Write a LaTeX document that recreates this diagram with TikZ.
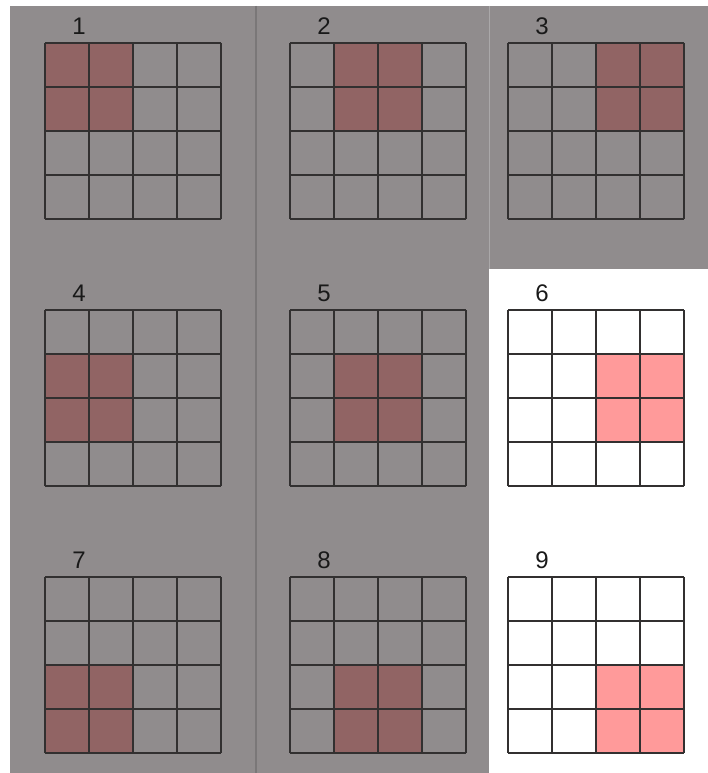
\documentclass[tikz,border=0pt]{standalone}
\usepackage{fontspec}
\setmainfont{Liberation Sans}
\definecolor{bggray}{RGB}{144,140,141}
\definecolor{redgray}{RGB}{145,100,100}
\definecolor{pinkcell}{RGB}{255,154,154}
\definecolor{gridline}{RGB}{50,48,48}
\definecolor{sepdark}{RGB}{122,119,120}
\definecolor{seplight}{RGB}{170,168,169}
\tikzset{
  gridln/.style={draw=gridline, line width=1.2pt},
  lbl/.style={font=\fontsize{24}{24}\selectfont, text=black!90, inner sep=0pt, anchor=center},
}
% #1 = x0, #2 = y0, #3 = first hot col, #4 = first hot row, #5 = fill colour, #6 = label
\newcommand{\slidegrid}[6]{%
  \fill[#5] (#1+#3*44,#2+#4*44) rectangle ++(88,88);
  \foreach \k in {0,...,4}{
    \draw[gridln] (#1+\k*44,#2) -- (#1+\k*44,#2+176);
    \draw[gridln] (#1,#2+\k*44) -- (#1+176,#2+\k*44);
  }
  \node[lbl] (lab#6) at (#1+34,#2-17) {#6};
}
\begin{document}
\begin{tikzpicture}[x=1pt,y=-1pt]
\useasboundingbox (0,0) rectangle (708,773);
\fill[white] (0,0) rectangle (708,773);
% gray panels
\fill[bggray] (10,6) rectangle (489,773);
\fill[bggray] (489,6) rectangle (708,269);
\draw[sepdark, line width=1.5pt] (256,6) -- (256,773);
\draw[seplight, line width=1.5pt] (489.5,6) -- (489.5,269);
% grids
\slidegrid{45}{43}{0}{0}{redgray}{1}
\slidegrid{290}{43}{1}{0}{redgray}{2}
\slidegrid{508}{43}{2}{0}{redgray}{3}
\slidegrid{45}{310}{0}{1}{redgray}{4}
\slidegrid{290}{310}{1}{1}{redgray}{5}
\slidegrid{508}{310}{2}{1}{pinkcell}{6}
\slidegrid{45}{577}{0}{2}{redgray}{7}
\slidegrid{290}{577}{1}{2}{redgray}{8}
\slidegrid{508}{577}{2}{2}{pinkcell}{9}
\end{tikzpicture}
\end{document}
